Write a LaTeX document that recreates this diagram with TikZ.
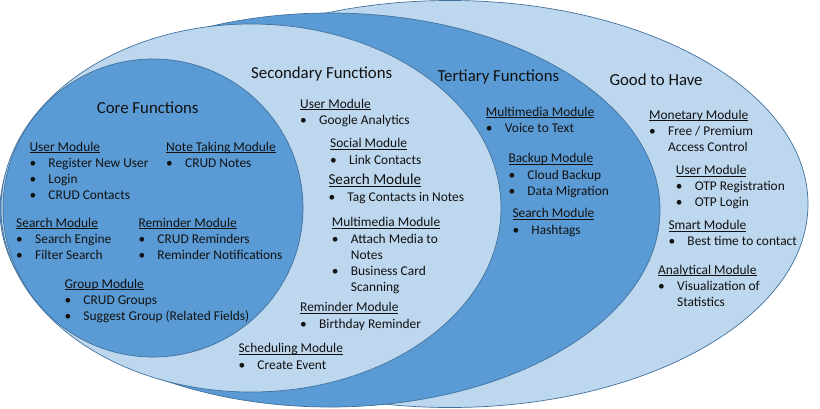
\documentclass[tikz,border=0pt]{standalone}
\usepackage{fontspec}
\setmainfont{Carlito}
\definecolor{dk}{HTML}{5B9BD5}
\definecolor{lt}{HTML}{BDD7EE}
\definecolor{edgec}{HTML}{41719C}
\definecolor{ink}{HTML}{111111}
\newcommand\hdl[1]{\hbox{\setbox0\hbox{#1}\rlap{\rule[-2.2pt]{\wd0}{0.8pt}}\box0}}
\newcommand\bl[1]{\hbox{\makebox[19pt][l]{\textbullet}#1}}
\newcommand\ct[1]{\hbox{\hspace*{19pt}#1}}
\tikzset{
  oval/.style={draw=edgec, line width=0.7pt},
  blk/.style={anchor=base west, inner sep=0pt, text=ink, font=\fontsize{13.4}{16.3}\selectfont},
  ttl/.style={anchor=base west, inner sep=0pt, text=ink, font=\fontsize{16.8}{20}\selectfont}
}
\begin{document}
\begin{tikzpicture}[x=1pt,y=-1pt]
\useasboundingbox (0,0) rectangle (820,408);
\fill[white] (0,0) rectangle (820,408);
% ellipses, back to front
\filldraw[oval, fill=lt] (450,204) ellipse [x radius=358pt, y radius=203.5pt];
\filldraw[oval, fill=dk] (330,210) ellipse [x radius=330pt, y radius=197pt];
\filldraw[oval, fill=lt] (251,208) ellipse [x radius=250pt, y radius=184pt];
\filldraw[oval, fill=dk] (153,208) ellipse [x radius=150pt, y radius=149pt];
% titles
\node[ttl] (tcore) at (96.7,113.5) {Core Functions};
\node[ttl] (tsec) at (251,78.5) {Secondary Functions};
\node[ttl] (tter) at (437.3,81.5) {Tertiary Functions};
\node[ttl] (tgood) at (609.3,85.5) {Good to Have};
% core
\node[blk] (cu) at (29.3,151) {\vtop{\hdl{User Module}\bl{Register New User}\bl{Login}\bl{CRUD Contacts}}};
\node[blk] (cn) at (166,151) {\vtop{\hdl{Note Taking Module}\bl{CRUD Notes}}};
\node[blk] (cs) at (16,227) {\vtop{\hdl{Search Module}\bl{Search Engine}\bl{Filter Search}}};
\node[blk] (cr) at (138.3,227) {\vtop{\hdl{Reminder Module}\bl{CRUD Reminders}\bl{Reminder Notifications}}};
\node[blk] (cg) at (64.3,288) {\vtop{\hdl{Group Module}\bl{CRUD Groups}\bl{Suggest Group (Related Fields)}}};
% secondary
\node[blk] (su) at (300,108) {\vtop{\hdl{User Module}\bl{Google Analytics}}};
\node[blk] (ss) at (330,147.7) {\vtop{\hdl{Social Module}\bl{Link Contacts}}};
\node[blk] (sh) at (328.3,184.3) {\vtop{\hbox{\fontsize{15.2}{17.4}\selectfont\hdl{Search Module}}\vskip1.1pt\bl{Tag Contacts in Notes}}};
\node[blk] (sm) at (331.7,226.7) {\vtop{\hdl{Multimedia Module}\bl{Attach Media to}\ct{Notes}\bl{Business Card}\ct{Scanning}}};
\node[blk] (sr) at (300,311.7) {\vtop{\hdl{Reminder Module}\bl{Birthday Reminder}}};
\node[blk] (sc) at (238.3,352.7) {\vtop{\hdl{Scheduling Module}\bl{Create Event}}};
% tertiary
\node[blk] (tm) at (485.7,116) {\vtop{\hdl{Multimedia Module}\bl{Voice to Text}}};
\node[blk] (tb) at (508.3,162.7) {\vtop{\hdl{Backup Module}\bl{Cloud Backup}\bl{Data Migration}}};
\node[blk] (ts) at (512.3,217.7) {\vtop{\hdl{Search Module}\bl{Hashtags}}};
% good to have
\node[blk] (gm) at (649,119) {\vtop{\hdl{Monetary Module}\bl{Free / Premium}\ct{Access Control}}};
\node[blk] (gu) at (675.7,174.3) {\vtop{\hdl{User Module}\bl{OTP Registration}\bl{OTP Login}}};
\node[blk] (gs) at (668.3,229.3) {\vtop{\hdl{Smart Module}\bl{Best time to contact}}};
\node[blk] (ga) at (658,274) {\vtop{\hdl{Analytical Module}\bl{Visualization of}\ct{Statistics}}};
\end{tikzpicture}
\end{document}
